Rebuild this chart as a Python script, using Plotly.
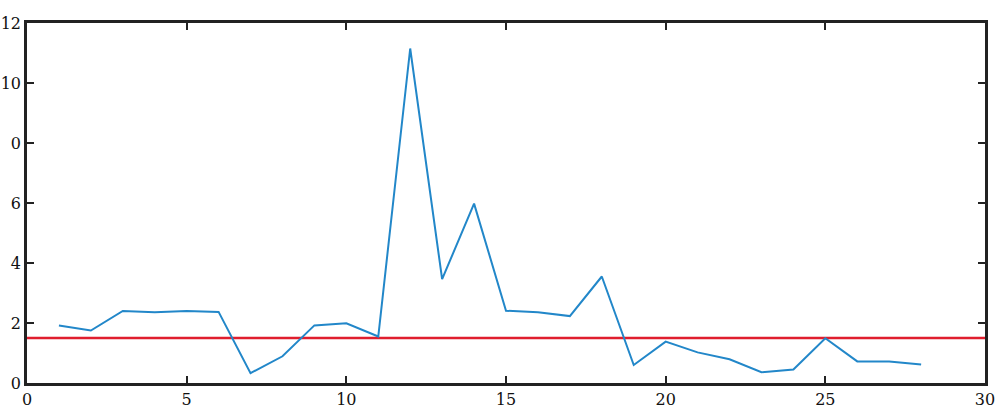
import plotly.graph_objects as go

x_vals = list(range(1, 29))
y_vals = [1.92, 1.75, 2.4, 2.36, 2.4, 2.37, 0.33, 0.89, 1.92, 1.99,
          1.55, 11.15, 3.46, 5.98, 2.41, 2.36, 2.23, 3.55, 0.6, 1.38,
          1.02, 0.79, 0.36, 0.45, 1.49, 0.72, 0.72, 0.62]
ref_x = [0, 30]
ref_y = [1.5, 1.5]

x_ticks = [0, 5, 10, 15, 20, 25, 30]
x_labels = ["0", "5", "10", "15", "20", "25", "30"]
y_ticks = [0, 2, 4, 6, 8, 10, 12]
y_labels = ["0", "2", "4", "6", "0", "10", "12"]

fig = go.Figure()
fig.add_trace(go.Scatter(x=ref_x, y=ref_y, mode="lines",
                         line=dict(color="#e01e2e", width=2.5), showlegend=False))
fig.add_trace(go.Scatter(x=x_vals, y=y_vals, mode="lines",
                         line=dict(color="#2287c9", width=2), showlegend=False))

axis_common = dict(showline=True, linecolor="#222222", linewidth=2.5, mirror="ticks",
                   ticks="inside", ticklen=7, tickwidth=2, tickcolor="#222222",
                   showgrid=False, zeroline=False, automargin=False,
                   tickfont=dict(family="DejaVu Serif", size=16, color="#111111"))

fig.update_xaxes(range=[0, 30], tickvals=x_ticks, ticktext=x_labels, **axis_common)
fig.update_yaxes(range=[0, 12], tickvals=y_ticks, ticktext=y_labels, **axis_common)

fig.update_layout(width=1000, height=419, plot_bgcolor="white", paper_bgcolor="white",
                  margin=dict(l=27, r=15, t=23, b=36))

fig.write_html("out.html", config={"displayModeBar": False},
               post_script="document.body.style.margin='0px';document.body.style.overflow='hidden';")
